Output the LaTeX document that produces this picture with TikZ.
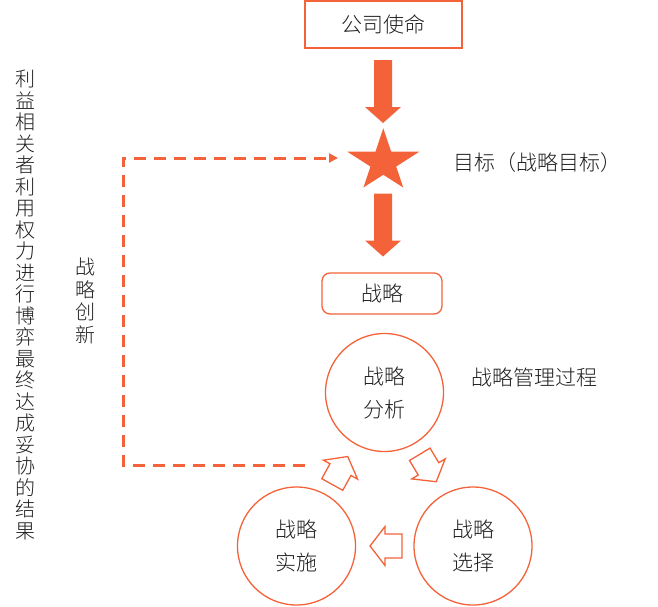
\documentclass[tikz,border=0pt]{standalone}
\usepackage{fontspec}
\setmainfont{Noto Sans CJK SC}[UprightFont=* Light]
\usetikzlibrary{arrows.meta,calc}
\definecolor{org}{RGB}{243,98,56}
\definecolor{txt}{RGB}{30,30,30}
\begin{document}
\begin{tikzpicture}[x=1pt,y=-1pt,
  every node/.style={text=txt, inner sep=0pt},
  cjk/.style={font=\fontsize{21}{33}\selectfont},
  vtext/.style={font=\fontsize{20}{21.5}\selectfont, align=center},
  boxline/.style={draw=org, line width=1.3pt},
  circ/.style={boxline, circle, minimum size=118pt, align=center, cjk},
  pics/blockarrow/.style={code={
    \fill[org] (-9,0) -- (9,0) -- (9,47) -- (18,47) -- (0,63) -- (-18,47) -- (-9,47) -- cycle;}},
  pics/hollowarrow/.style={code={
    \draw[org, line width=1.3pt, line join=miter] (-16,-12) -- (1,-12) -- (1,-19.5) -- (16,0)
      -- (1,19.5) -- (1,12) -- (-16,12) -- cycle;}}
]
\useasboundingbox (0,0) rectangle (658,606);

% top box
\node[boxline, rectangle, minimum width=157pt, minimum height=47pt, cjk] (mission) at (383.5,24.5) {公司使命};

% star
\coordinate (T) at (383.3,128.3);
\coordinate (Rt) at (419.3,151.7);
\coordinate (BR) at (403.2,187.5);
\coordinate (BL) at (363.4,187.5);
\coordinate (Lt) at (347.3,151.7);
\coordinate (goal) at (383.3,162);
\fill[org] (T) -- (intersection of T--BR and Lt--Rt) -- (Rt)
  -- (intersection of Rt--BL and T--BR) -- (BR)
  -- (intersection of BR--Lt and Rt--BL) -- (BL)
  -- (intersection of BL--T and BR--Lt) -- (Lt)
  -- (intersection of Lt--Rt and BL--T) -- cycle;

% solid block arrows
\pic at (383,60) {blockarrow};
\pic at (383,193.5) {blockarrow};

% strategy box
\node[boxline, rectangle, rounded corners=8pt, minimum width=120pt, minimum height=41pt, cjk] (strat) at (382,293.5) {战略};

% circles
\node[circ] (ana) at (384.5,392.5) {战略\\分析};
\node[circ] (impl) at (296.5,546) {战略\\实施};
\node[circ] (sel) at (473,546) {战略\\选择};

% hollow arrows
\pic[rotate=61] at (340,470.5) {hollowarrow};
\pic[rotate=-59] at (428,468) {hollowarrow};
\pic[rotate=180] at (386,546) {hollowarrow};

% labels
\node[cjk, anchor=west] (goallbl) at (453,163) {目标（战略目标）};
\node[cjk, anchor=west] (proc) at (471,377) {战略管理过程};
\node[vtext] (side) at (25,305) {利\\益\\相\\关\\者\\利\\用\\权\\力\\进\\行\\博\\弈\\最\\终\\达\\成\\妥\\协\\的\\结\\果};
\node[vtext, font=\fontsize{20}{22.5}\selectfont] (inno) at (85,301) {战\\略\\创\\新};

% dashed feedback loop
\coordinate (dstart) at (305,465);
\coordinate (c1) at (123,465);
\coordinate (c2) at (123,158);
\coordinate (dend) at (338,158);
\draw[org, line width=3pt, line join=miter, dash pattern=on 12pt off 8pt,
  -{Triangle[length=9pt,width=9pt]}] (dstart) -- (c1) -- (c2) -- (dend);
\end{tikzpicture}
\end{document}
